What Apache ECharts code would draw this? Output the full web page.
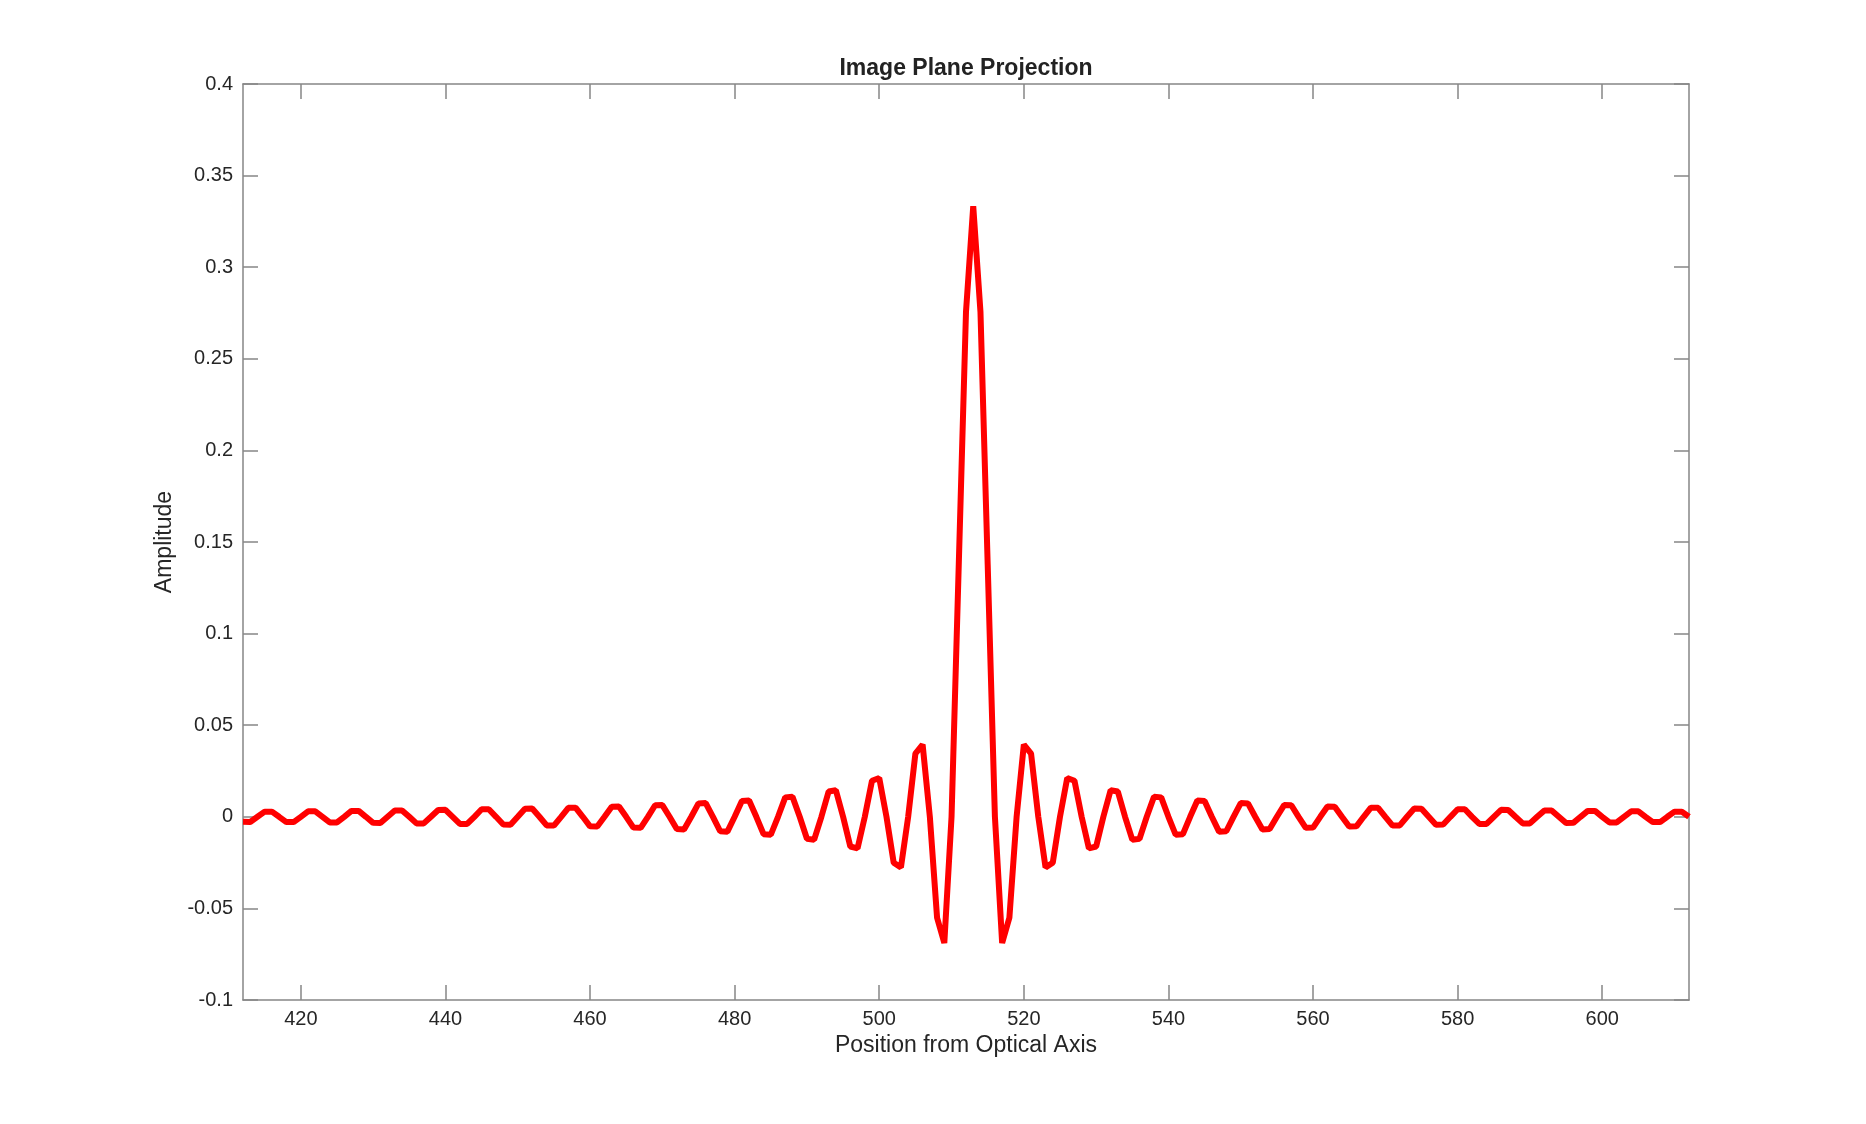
<!DOCTYPE html>
<html>
<head>
<meta charset="utf-8">
<title>Image Plane Projection</title>
<script src="https://cdn.jsdelivr.net/npm/echarts@6/dist/echarts.min.js"></script>
<style>
  html, body { margin: 0; padding: 0; background: #fff; }
  #chart { width: 1866px; height: 1124px; }
</style>
</head>
<body>
<div id="chart"></div>
<script>
// sample positions along the image plane
const positions = [
  412, 413, 414, 415, 416, 417, 418, 419, 420, 421, 422, 423, 424, 425, 426, 427, 428, 429, 430, 431,
  432, 433, 434, 435, 436, 437, 438, 439, 440, 441, 442, 443, 444, 445, 446, 447, 448, 449, 450, 451,
  452, 453, 454, 455, 456, 457, 458, 459, 460, 461, 462, 463, 464, 465, 466, 467, 468, 469, 470, 471,
  472, 473, 474, 475, 476, 477, 478, 479, 480, 481, 482, 483, 484, 485, 486, 487, 488, 489, 490, 491,
  492, 493, 494, 495, 496, 497, 498, 499, 500, 501, 502, 503, 504, 505, 506, 507, 508, 509, 510, 511,
  512, 513, 514, 515, 516, 517, 518, 519, 520, 521, 522, 523, 524, 525, 526, 527, 528, 529, 530, 531,
  532, 533, 534, 535, 536, 537, 538, 539, 540, 541, 542, 543, 544, 545, 546, 547, 548, 549, 550, 551,
  552, 553, 554, 555, 556, 557, 558, 559, 560, 561, 562, 563, 564, 565, 566, 567, 568, 569, 570, 571,
  572, 573, 574, 575, 576, 577, 578, 579, 580, 581, 582, 583, 584, 585, 586, 587, 588, 589, 590, 591,
  592, 593, 594, 595, 596, 597, 598, 599, 600, 601, 602, 603, 604, 605, 606, 607, 608, 609, 610, 611,
  612
];

// amplitude, one value per position
const amplitude = [
  -0.0027, -0.0028, 0, 0.0028, 0.0028, 0,
  -0.0029, -0.0029, 0, 0.0030, 0.0030, 0,
  -0.0031, -0.0031, 0, 0.0032, 0.0032, 0,
  -0.0033, -0.0034, 0, 0.0034, 0.0035, 0,
  -0.0036, -0.0036, 0, 0.0037, 0.0038, 0,
  -0.0039, -0.0039, 0, 0.0041, 0.0041, 0,
  -0.0042, -0.0043, 0, 0.0044, 0.0045, 0,
  -0.0047, -0.0048, 0, 0.0049, 0.0050, 0,
  -0.0052, -0.0053, 0, 0.0055, 0.0056, 0,
  -0.0059, -0.0060, 0, 0.0063, 0.0064, 0,
  -0.0067, -0.0069, 0, 0.0073, 0.0075, 0,
  -0.0079, -0.0081, 0, 0.0086, 0.0089, 0,
  -0.0095, -0.0098, 0, 0.0106, 0.0110, 0,
  -0.0120, -0.0125, 0, 0.0138, 0.0145, 0,
  -0.0162, -0.0172, 0, 0.0197, 0.0212, 0,
  -0.0251, -0.0276, 0, 0.0345, 0.0394, 0,
  -0.0551, -0.0689, 0, 0.1378, 0.2757,
  0.3333,
  0.2757, 0.1378, 0, -0.0689, -0.0551, 0,
  0.0394, 0.0345, 0, -0.0276, -0.0251, 0,
  0.0212, 0.0197, 0, -0.0172, -0.0162, 0,
  0.0145, 0.0138, 0, -0.0125, -0.0120, 0,
  0.0110, 0.0106, 0, -0.0098, -0.0095, 0,
  0.0089, 0.0086, 0, -0.0081, -0.0079, 0,
  0.0075, 0.0073, 0, -0.0069, -0.0067, 0,
  0.0064, 0.0063, 0, -0.0060, -0.0059, 0,
  0.0056, 0.0055, 0, -0.0053, -0.0052, 0,
  0.0050, 0.0049, 0, -0.0048, -0.0047, 0,
  0.0045, 0.0044, 0, -0.0043, -0.0042, 0,
  0.0041, 0.0041, 0, -0.0039, -0.0039, 0,
  0.0038, 0.0037, 0, -0.0036, -0.0036, 0,
  0.0035, 0.0034, 0, -0.0034, -0.0033, 0,
  0.0032, 0.0032, 0, -0.0031, -0.0031, 0,
  0.0030, 0.0030, 0, -0.0029, -0.0029, 0,
  0.0028, 0.0028, 0
];

const xTicks = [420, 440, 460, 480, 500, 520, 540, 560, 580, 600];

const textColor = "#262626";
const boxColor = "#868686";
const fontFamily = "'Liberation Sans', Arial, sans-serif";

const chart = echarts.init(document.getElementById("chart"));

const baseX = {
    type: "value",
    min: 412,
    max: 612,
    splitLine: { show: false },
    axisLine: { show: true, onZero: false, lineStyle: { color: boxColor, width: 1.5 } },
    axisTick: { show: true, inside: true, length: 15, customValues: xTicks, lineStyle: { color: boxColor, width: 1.5 } },
};

const baseY = {
    type: "value",
    min: -0.1,
    max: 0.4,
    interval: 0.05,
    splitLine: { show: false },
    axisLine: { show: true, onZero: false, lineStyle: { color: boxColor, width: 1.5 } },
    axisTick: { show: true, inside: true, length: 15, lineStyle: { color: boxColor, width: 1.5 } },
};

chart.setOption({
    animation: false,
    backgroundColor: "#fff",
    title: {
        text: "Image Plane Projection",
        left: 966,
        top: 57,
        textAlign: "center",
        padding: 0,
        textStyle: { fontFamily, fontSize: 23, fontWeight: "bold", color: "#222" },
    },
    grid: { left: 243, right: 177, top: 84, bottom: 124, containLabel: false },
    xAxis: [
        {
            ...baseX,
            position: "bottom",
            name: "Position from Optical Axis",
            nameLocation: "middle",
            nameGap: 32,
            nameTextStyle: { fontFamily, fontSize: 23, color: textColor },
            axisLabel: { customValues: xTicks, margin: 9, fontFamily, fontSize: 20, color: textColor },
        },
        {
            ...baseX,
            position: "top",
            axisLabel: { show: false },
        },
    ],
    yAxis: [
        {
            ...baseY,
            position: "left",
            name: "Amplitude",
            nameLocation: "middle",
            nameGap: 62,
            nameTextStyle: { fontFamily, fontSize: 23, color: textColor },
            axisLabel: { margin: 10, fontFamily, fontSize: 20, color: textColor },
        },
        {
            ...baseY,
            position: "right",
            axisLabel: { show: false },
        },
    ],
    series: [
        {
            type: "line",
            data: positions.map((x, i) => [x, amplitude[i]]),
            showSymbol: false,
            clip: true,
            lineStyle: { color: "#ff0000", width: 6 },
            itemStyle: { color: "#ff0000" },
        },
    ],
});
</script>
</body>
</html>
